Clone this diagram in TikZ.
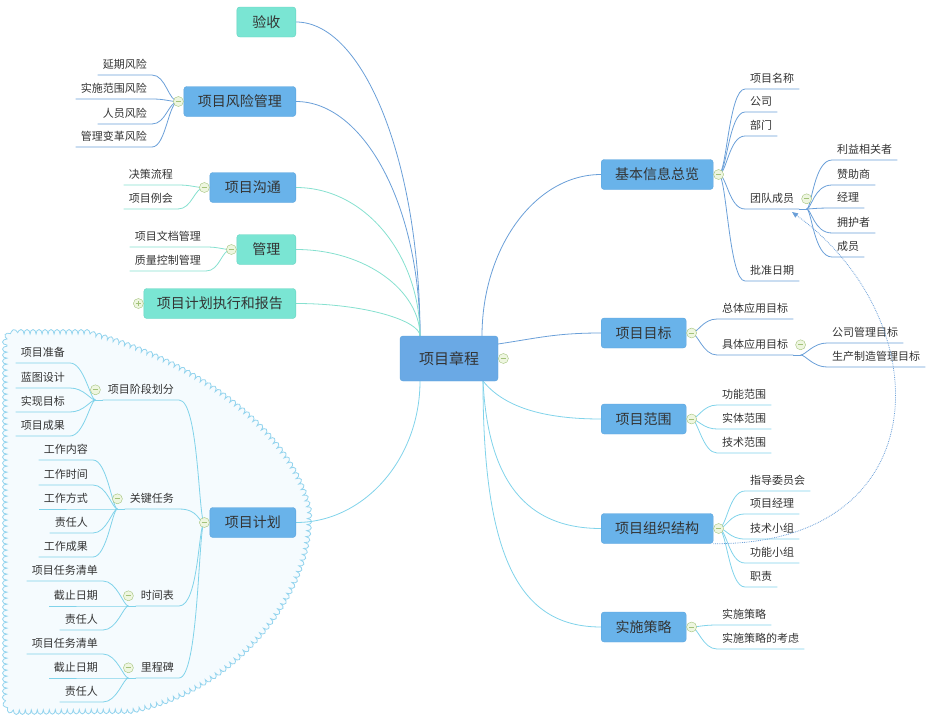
\documentclass[tikz,border=0pt]{standalone}
\usepackage{fontspec}
\setmainfont{Noto Sans CJK SC}
\usetikzlibrary{positioning,backgrounds,arrows.meta,decorations.pathmorphing}
\definecolor{textgray}{HTML}{333333}
\definecolor{topicblue}{HTML}{69B3EA}
\definecolor{topicblueline}{HTML}{5AA3DD}
\definecolor{coreblue}{HTML}{6AA9E5}
\definecolor{topicteal}{HTML}{7AE5D3}
\definecolor{topictealline}{HTML}{64D3C0}
\definecolor{blueline}{HTML}{6A9FD8}
\definecolor{cyanline}{HTML}{80D3EA}
\definecolor{tealline}{HTML}{86E0CF}
\definecolor{foldline}{HTML}{A3C27A}
\definecolor{foldfill}{HTML}{EEF6E0}
\definecolor{cloudline}{HTML}{94D4EE}
\definecolor{cloudfill}{HTML}{F5FBFE}
\tikzset{
  topic/.style={rectangle,rounded corners=3pt,minimum height=30pt,inner sep=0pt,
    font=\fontsize{14}{16}\selectfont,text=textgray},
  bluetopic/.style={topic,fill=topicblue,draw=topicblueline},
  tealtopic/.style={topic,fill=topicteal,draw=topictealline},
  coretopic/.style={topic,fill=coreblue,draw=topicblueline,minimum width=98pt,
    minimum height=45pt,font=\fontsize{15}{17}\selectfont},
  leaf/.style={inner xsep=5pt,inner ysep=5pt,text height=9pt,text depth=1pt,
    font=\fontsize{11}{13}\selectfont,text=textgray},
  rleaf/.style={leaf,anchor=south west},
  lleaf/.style={leaf,anchor=south east},
  fold/.style={circle,draw=foldline,fill=foldfill,minimum size=10pt,inner sep=0pt,
    path picture={\draw[foldline,line width=0.8pt]
      ([xshift=-2.8pt]path picture bounding box.center) -- ([xshift=2.8pt]path picture bounding box.center);}},
  unfold/.style={circle,draw=foldline,fill=foldfill,minimum size=10pt,inner sep=0pt,
    path picture={\draw[foldline,line width=0.8pt]
      ([xshift=-2.8pt]path picture bounding box.center) -- ([xshift=2.8pt]path picture bounding box.center)
      ([yshift=-2.8pt]path picture bounding box.center) -- ([yshift=2.8pt]path picture bounding box.center);}},
  bline/.style={draw=blueline,line width=0.8pt},
  cline/.style={draw=cyanline,line width=0.8pt},
  tline/.style={draw=tealline,line width=0.8pt},
  relline/.style={draw=blueline,line width=0.8pt,densely dotted,-{Triangle[length=6pt,width=5pt]}},
}
\begin{document}
\begin{tikzpicture}[x=1pt,y=-1pt]
  \useasboundingbox (0,0) rectangle (940,718);
  % centre and main topics
  \node[coretopic] (core) at (449,358.5) {项目章程};
  \node[fold,right=0pt of core] (coreF) {};
  \coordinate (hubL) at (420,336);
  \coordinate (hubLB) at (420,381);
  \coordinate (hubR) at (482,336);
  \coordinate (hubRB) at (483,381);
  \coordinate (hubE) at (498,344);

  \node[tealtopic,minimum width=59pt,anchor=east] (accept) at (296,22) {验收};
  \node[bluetopic,minimum width=112pt,anchor=east] (risk) at (296,101.5) {项目风险管理};
  \node[bluetopic,minimum width=86pt,anchor=east] (comm) at (296,187.5) {项目沟通};
  \node[tealtopic,minimum width=59pt,anchor=east] (manage) at (296,249.5) {管理};
  \node[tealtopic,minimum width=152pt,anchor=east] (exec) at (296,303.5) {项目计划执行和报告};
  \node[bluetopic,minimum width=86pt,anchor=east] (plan) at (296,522.5) {项目计划};
  \node[bluetopic,minimum width=112pt,anchor=west] (info) at (601,174.5) {基本信息总览};
  \node[bluetopic,minimum width=85pt,anchor=west] (goal) at (601,333) {项目目标};
  \node[bluetopic,minimum width=85pt,anchor=west] (scope) at (601,419) {项目范围};
  \node[bluetopic,minimum width=112pt,anchor=west] (org) at (601,528.5) {项目组织结构};
  \node[bluetopic,minimum width=85pt,anchor=west] (impl) at (601,627) {实施策略};

  \node[fold,left=0pt of risk] (riskF) {};
  \node[fold,left=0pt of comm] (commF) {};
  \node[fold,left=0pt of manage] (manageF) {};
  \node[unfold,left=0pt of exec] (execF) {};
  \node[fold,left=0pt of plan] (planF) {};
  \node[fold,right=0pt of info] (infoF) {};
  \node[fold,right=0pt of goal] (goalF) {};
  \node[fold,right=0pt of scope] (scopeF) {};
  \node[fold,right=0pt of org] (orgF) {};
  \node[fold,right=0pt of impl] (implF) {};

  % right side leaves
  \foreach \n/\txt/\ly in {i1/项目名称/89,i2/公司/112,i3/部门/136,i4/团队成员/209,i5/批准日期/281}
    \node[rleaf] (\n) at (745,\ly) {\txt};
  \node[fold,right=2pt of i4] (i4F) {};
  \coordinate (i4J) at (i4F |- i4.south);
  \coordinate (i4T) at (792,212);
  \foreach \n/\txt/\ly in {t1/利益相关者/160,t2/赞助商/185,t3/经理/208,t4/拥护者/233,t5/成员/257}
    \node[rleaf] (\n) at (832,\ly) {\txt};
  \foreach \n/\txt/\ly in {g1/总体应用目标/319,g2/具体应用目标/355}
    \node[rleaf] (\n) at (717,\ly) {\txt};
  \node[fold,right=2pt of g2] (g2F) {};
  \coordinate (g2J) at (g2F |- g2.south);
  \foreach \n/\txt/\ly in {h1/公司管理目标/343,h2/生产制造管理目标/367}
    \node[rleaf] (\n) at (827,\ly) {\txt};
  \foreach \n/\txt/\ly in {s1/功能范围/405,s2/实体范围/429,s3/技术范围/453}
    \node[rleaf] (\n) at (717,\ly) {\txt};
  \foreach \n/\txt/\ly in {o1/指导委员会/491,o2/项目经理/514,o3/技术小组/539,o4/功能小组/563,o5/职责/587}
    \node[rleaf] (\n) at (745,\ly) {\txt};
  \foreach \n/\txt/\ly in {m1/实施策略/625,m2/实施策略的考虑/649}
    \node[rleaf] (\n) at (717,\ly) {\txt};

  % left side leaves
  \foreach \n/\txt/\ly in {r1/延期风险/75,r2/实施范围风险/99,r3/人员风险/124,r4/管理变革风险/147}
    \node[lleaf] (\n) at (152,\ly) {\txt};
  \foreach \n/\txt/\ly in {c1/决策流程/185,c2/项目例会/209}
    \node[lleaf] (\n) at (178,\ly) {\txt};
  \foreach \n/\txt/\ly in {d1/项目文档管理/247,d2/质量控制管理/271}
    \node[lleaf] (\n) at (206,\ly) {\txt};
  \foreach \n/\txt/\ly in {p1/项目阶段划分/400,p2/关键任务/509,p3/时间表/606,p4/里程碑/678}
    \node[lleaf] (\n) at (179,\ly) {\txt};
  \foreach \n in {p1,p2,p3,p4}{
    \node[fold,left=2pt of \n] (\n F) {};
    \coordinate (\n J) at (\n F |- \n.south);
  }
  \foreach \n/\txt/\ly in {a1/项目准备/363,a2/蓝图设计/388,a3/实现目标/412,a4/项目成果/436}
    \node[lleaf] (\n) at (70,\ly) {\txt};
  \foreach \n/\txt/\ly in {b1/工作内容/460,b2/工作时间/485,b3/工作方式/509,b4/责任人/533,b5/工作成果/557}
    \node[lleaf] (\n) at (93,\ly) {\txt};
  \foreach \n/\txt/\ly in {e1/项目任务清单/581,e2/截止日期/606,e3/责任人/630}
    \node[lleaf] (\n) at (103,\ly) {\txt};
  \foreach \n/\txt/\ly in {k1/项目任务清单/654,k2/截止日期/678,k3/责任人/702}
    \node[lleaf] (\n) at (103,\ly) {\txt};

  \begin{scope}[on background layer]
    % cloud round the plan branch
    \path[draw=cloudline,fill=cloudfill,line width=0.8pt,decorate,
      decoration={bumps,segment length=12pt,amplitude=4.5pt}]
      (7,345) .. controls (7,338) and (10,334) .. (18,334) -- (85,334)
      .. controls (190,360) and (290,430) .. (307,510)
      .. controls (312,590) and (235,690) .. (130,709) -- (18,710)
      .. controls (10,710) and (7,706) .. (7,698) -- cycle;
    % main branches
    \draw[bline] (accept.east) .. controls +(68,0) and +(0,-173) .. (hubL);
    \draw[bline] (risk.east) .. controls +(68,0) and +(0,-130) .. (hubL);
    \draw[tline] (comm.east) .. controls +(70,0) and +(0,-80) .. (hubL);
    \draw[tline] (manage.east) .. controls +(70,0) and +(0,-45) .. (hubL);
    \draw[tline] (exec.east) .. controls +(70,0) and +(0,-15) .. (hubL);
    \draw[cline] (plan.east) .. controls +(68,0) and +(0,78) .. (hubLB);
    \draw[bline] (info.west) .. controls +(-66,0) and +(0,-88) .. (hubR);
    \draw[bline] (goal.west) .. controls +(-45,0) and +(40,-6) .. (hubE);
    \draw[cline] (scope.west) .. controls +(-60,0) and +(20,25) .. (hubRB);
    \draw[cline] (org.west) .. controls +(-75,0) and +(5,100) .. (hubRB);
    \draw[cline] (impl.west) .. controls +(-80,0) and +(0,180) .. (hubRB);
    % right leaves
    \foreach \n in {i1,i2,i3,i4,i5}
      \draw[bline] (infoF.center) .. controls +(8,0) and +(-16,0) .. (\n.south west) -- (\n.south east);
    \draw[bline] (i4.south east) -- (i4J);
    \foreach \n in {t1,t2,t3,t4,t5}
      \draw[bline] (i4J) .. controls +(5,0) and +(-18,0) .. (\n.south west) -- (\n.south east);
    \foreach \n in {g1,g2}
      \draw[bline] (goalF.center) .. controls +(6,0) and +(-14,0) .. (\n.south west) -- (\n.south east);
    \draw[bline] (g2.south east) -- (g2J);
    \foreach \n in {h1,h2}
      \draw[bline] (g2J) .. controls +(5,0) and +(-14,0) .. (\n.south west) -- (\n.south east);
    \foreach \n in {s1,s2,s3}
      \draw[cline] (scopeF.center) .. controls +(6,0) and +(-14,0) .. (\n.south west) -- (\n.south east);
    \foreach \n in {o1,o2,o3,o4,o5}
      \draw[cline] (orgF.center) .. controls +(8,0) and +(-16,0) .. (\n.south west) -- (\n.south east);
    \foreach \n in {m1,m2}
      \draw[cline] (implF.center) .. controls +(6,0) and +(-14,0) .. (\n.south west) -- (\n.south east);
    % left leaves
    \foreach \n in {r1,r2,r3,r4}
      \draw[bline] (riskF.center) .. controls +(-10,0) and +(14,0) .. (\n.south east) -- (\n.south west);
    \foreach \n in {c1,c2}
      \draw[tline] (commF.center) .. controls +(-10,0) and +(14,0) .. (\n.south east) -- (\n.south west);
    \foreach \n in {d1,d2}
      \draw[tline] (manageF.center) .. controls +(-10,0) and +(14,0) .. (\n.south east) -- (\n.south west);
    \foreach \n in {p1,p2,p3,p4}{
      \draw[cline] (planF.center) .. controls +(-6,0) and +(20,0) .. (\n.south east) -- (\n.south west);
      \draw[cline] (\n.south west) -- (\n J);
    }
    \foreach \n in {a1,a2,a3,a4}
      \draw[cline] (p1J) .. controls +(-5,0) and +(14,0) .. (\n.south east) -- (\n.south west);
    \foreach \n in {b1,b2,b3,b4,b5}
      \draw[cline] (p2J) .. controls +(-5,0) and +(14,0) .. (\n.south east) -- (\n.south west);
    \foreach \n in {e1,e2,e3}
      \draw[cline] (p3J) .. controls +(-5,0) and +(14,0) .. (\n.south east) -- (\n.south west);
    \foreach \n in {k1,k2,k3}
      \draw[cline] (p4J) .. controls +(-5,0) and +(14,0) .. (\n.south east) -- (\n.south west);
  \end{scope}
  % relation
  \draw[relline] (org.south east) .. controls (940,545) and (940,320) .. (i4T);
\end{tikzpicture}
\end{document}
